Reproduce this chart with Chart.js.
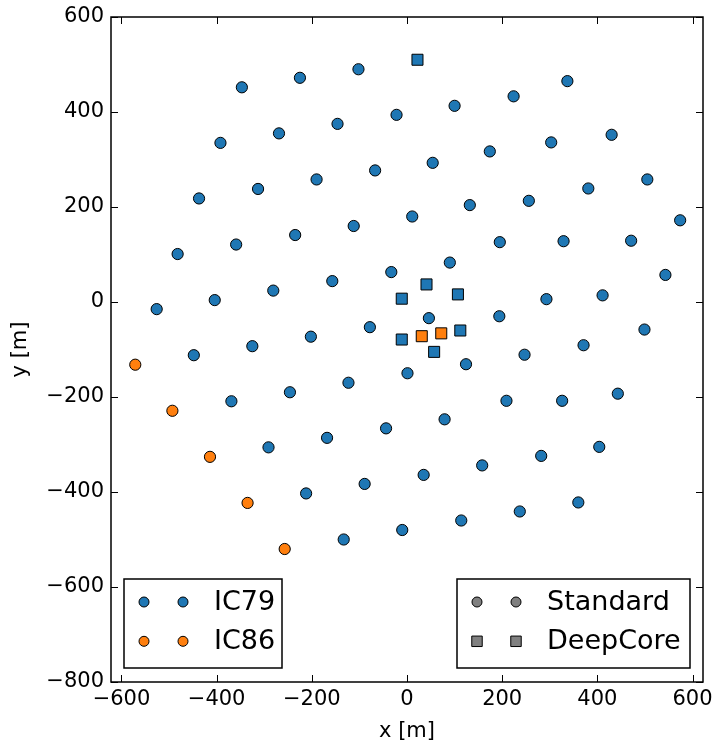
<!DOCTYPE html>
<html>
<head>
<meta charset="utf-8">
<script src="https://cdn.jsdelivr.net/npm/chart.js@4.4.0/dist/chart.umd.min.js"></script>
<style>
  body { margin: 0; background: #fff; }
  canvas { display: block; }
</style>
</head>
<body>
<canvas id="stringChart" width="715" height="745"></canvas>
<script>
// string positions, in metres
const ic79StdX = [-347, -225, -102, -22, -146, -269, -392, -67, -190, -313, -437, 11, -112, -235, -359, -482, -33, -157, -281, -404, -526,
  100, 224, 337, 430, 303, 174, 54, 505, 381, 256, 132, 574, 471, 329, 195, 90, 543, 293, 411,
  -78, -202, -325, -448, 1, -123, -246, -369, -44, -168, -291, -89, -212, -10, -133,
  46, 194, 499, 371, 247, 124, 443, 326, 209, 79, 404, 282, 158, 35, 360, 237, 114];
const ic79StdY = [452, 472, 490, 394, 375, 355, 335, 277, 258, 238, 218, 180, 160, 141, 121, 101, 63, 44, 24, 4, -15,
  413, 433, 465, 352, 336, 317, 293, 258, 239, 213, 204, 172, 129, 128, 126, 83, 57, 6, 14,
  -53, -73, -93, -112, -150, -170, -190, -209, -266, -286, -306, -383, -403, -480, -500,
  -34, -30, -58, -91, -111, -131, -193, -208, -208, -247, -305, -324, -344, -364, -422, -441, -460];
const ic79DcX = [22, -11, 41, 107, -11, 112, 57];
const ic79DcY = [510, 7, 37, 16, -79, -60, -105];
const ic86StdX = [-571, -493, -414, -335, -257];
const ic86StdY = [-132, -229, -326, -423, -520];
const ic86DcX = [31, 72];
const ic86DcY = [-72, -66];

const xTicks = [-600, -400, -200, 0, 200, 400, 600];
const yTicks = [-800, -600, -400, -200, 0, 200, 400, 600];
const configLabels = ["IC79", "IC86"];
const typeLabels = ["Standard", "DeepCore"];

const blue = "#1f77b4";
const orange = "#ff7f0e";
const grey = "#808080";
const FONT = "DejaVu Sans";

function toPoints(xs, ys) {
    return xs.map((x, i) => ({ x: x, y: ys[i] }));
}

function dotSet(label, xs, ys, color, style) {
    return {
        label: label,
        data: toPoints(xs, ys),
        backgroundColor: color,
        borderColor: "#000",
        borderWidth: 1,
        pointStyle: style,
        pointRadius: style === "rect" ? 7.8 : 5.6,
        pointHoverRadius: style === "rect" ? 7.8 : 5.6,
    };
}

function minus(v) {
    return String(v).replace("-", "\u2212");
}

// legend box with two markers per row, like matplotlib
function drawLegend(ctx, left, top, width, height, colors, styles, labels) {
    ctx.fillStyle = "#fff";
    ctx.fillRect(left, top, width, height);
    ctx.lineWidth = 1.5;
    ctx.strokeStyle = "#000";
    ctx.strokeRect(left, top, width, height);
    labels.forEach((text, i) => {
        const y = top + 23 + i * 39.3;
        ctx.fillStyle = colors[i];
        ctx.strokeStyle = "#000";
        ctx.lineWidth = 1;
        const r = styles[i] === "rect" ? 7.4 : 5;
        [20, 59].forEach((dx) => {
            Chart.helpers.drawPoint(ctx, { pointStyle: styles[i], radius: r, borderWidth: 1, rotation: 0 }, left + dx, y);
        });
        ctx.fillStyle = "#000";
        ctx.font = "27px '" + FONT + "'";
        ctx.textAlign = "left";
        ctx.textBaseline = "middle";
        ctx.fillText(text, left + 90, y + 1);
    });
}

const frameAndTicks = {
    id: "frameAndTicks",
    afterDraw(chart) {
        const { ctx, chartArea: a, scales } = chart;
        ctx.save();
        ctx.strokeStyle = "#000";
        ctx.lineWidth = 1;
        ctx.beginPath();
        scales.x.ticks.forEach((t) => {
            const px = Math.round(scales.x.getPixelForValue(t.value)) + 0.5;
            ctx.moveTo(px, a.bottom); ctx.lineTo(px, a.bottom - 7);
            ctx.moveTo(px, a.top); ctx.lineTo(px, a.top + 7);
        });
        scales.y.ticks.forEach((t) => {
            const py = Math.round(scales.y.getPixelForValue(t.value)) + 0.5;
            ctx.moveTo(a.left, py); ctx.lineTo(a.left + 7, py);
            ctx.moveTo(a.right, py); ctx.lineTo(a.right - 7, py);
        });
        ctx.stroke();
        ctx.lineWidth = 1.5;
        ctx.strokeRect(a.left, a.top, a.right - a.left, a.bottom - a.top);

        drawLegend(ctx, 124, 579, 158, 89, [blue, orange], ["circle", "circle"], configLabels);
        drawLegend(ctx, 457, 579, 233, 89, [grey, grey], ["circle", "rect"], typeLabels);
        ctx.restore();
    },
};

Chart.defaults.font.family = FONT;
Chart.defaults.color = "#000";

new Chart(document.getElementById("stringChart"), {
    type: "scatter",
    data: {
        datasets: [
            dotSet("IC79 Standard", ic79StdX, ic79StdY, blue, "circle"),
            dotSet("IC79 DeepCore", ic79DcX, ic79DcY, blue, "rect"),
            dotSet("IC86 Standard", ic86StdX, ic86StdY, orange, "circle"),
            dotSet("IC86 DeepCore", ic86DcX, ic86DcY, orange, "rect"),
        ],
    },
    options: {
        responsive: false,
        animation: false,
        layout: { padding: { top: 17, right: 12, left: 0, bottom: 0 } },
        plugins: { legend: { display: false }, tooltip: { enabled: false } },
        scales: {
            x: {
                type: "linear",
                min: -622,
                max: 622,
                afterBuildTicks: (s) => { s.ticks = xTicks.map((v) => ({ value: v })); },
                afterFit: (s) => { s.height = 63; s.paddingLeft = 0; s.paddingRight = 0; },
                grid: { display: false, drawTicks: false },
                border: { display: false },
                ticks: { font: { size: 21 }, padding: 5, maxRotation: 0, callback: minus },
                title: { display: true, text: "x [m]", font: { size: 21 }, padding: { top: 0, bottom: 1 } },
            },
            y: {
                type: "linear",
                min: -800,
                max: 600,
                afterBuildTicks: (s) => { s.ticks = yTicks.map((v) => ({ value: v })); },
                afterFit: (s) => { s.width = 111; s.paddingTop = 0; s.paddingBottom = 0; },
                grid: { display: false, drawTicks: false },
                border: { display: false },
                ticks: { font: { size: 21 }, padding: 7, callback: minus },
                title: { display: true, text: "y [m]", font: { size: 21 }, padding: { top: 8, bottom: 0 } },
            },
        },
    },
    plugins: [frameAndTicks],
});
</script>
</body>
</html>
